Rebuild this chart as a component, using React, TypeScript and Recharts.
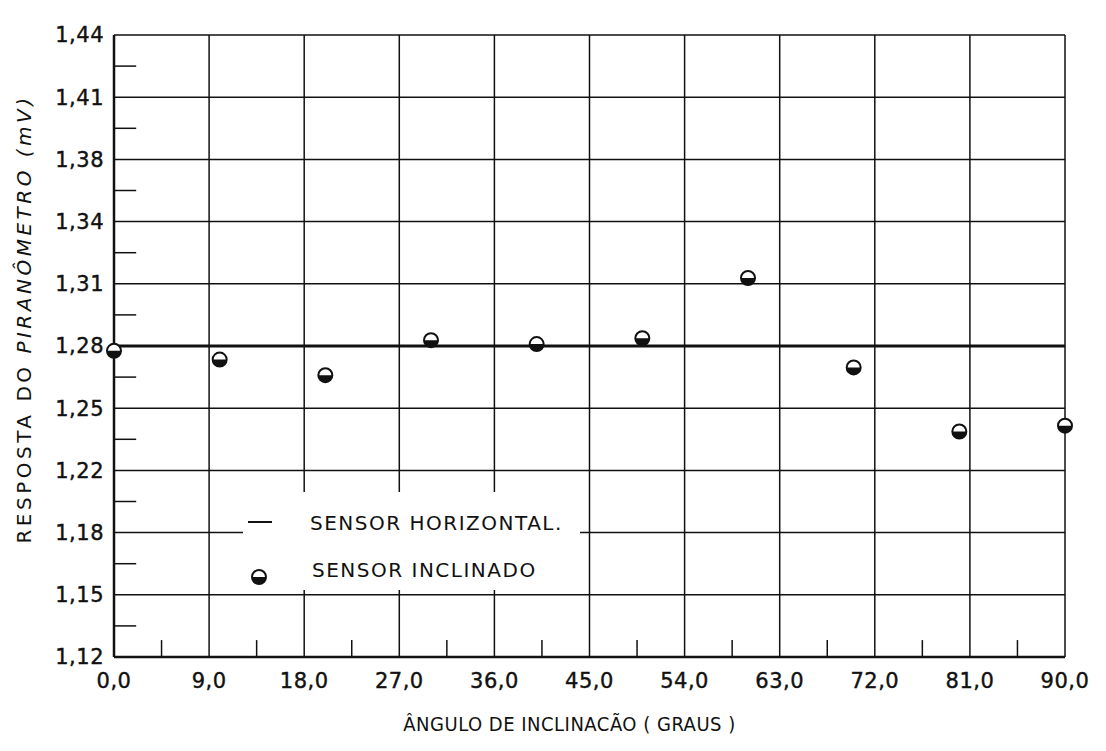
import {
  ComposedChart, Line, Scatter, XAxis, YAxis, CartesianGrid, ReferenceLine
} from 'recharts'

// angles (degrees) and pyranometer readings (mV)
const angles = [0, 10, 20, 30, 40, 50, 60, 70, 80, 90]
const sensorInclinado = [1.2775, 1.273, 1.265, 1.283, 1.281, 1.284, 1.315, 1.269, 1.236, 1.239]
const sensorHorizontal = [1.28, 1.28, 1.28, 1.28, 1.28, 1.28, 1.28, 1.28, 1.28, 1.28]

const xTicks = [0, 9, 18, 27, 36, 45, 54, 63, 72, 81, 90]
const xMinorTicks = [4.5, 13.5, 22.5, 31.5, 40.5, 49.5, 58.5, 67.5, 76.5, 85.5]
const yTicks = [1.12, 1.152, 1.184, 1.216, 1.248, 1.28, 1.312, 1.344, 1.376, 1.408, 1.44]
const yMinorTicks = [1.136, 1.168, 1.2, 1.232, 1.264, 1.296, 1.328, 1.36, 1.392, 1.424]

const INK = '#111'
const FONT = '"DejaVu Sans", Arial, sans-serif'
const FONT_COND = '"DejaVu Sans Condensed", "DejaVu Sans", Arial, sans-serif'

const data = angles.map((a, i) => ({
  angle: a,
  inclinado: sensorInclinado[i],
  horizontal: sensorHorizontal[i],
}))

const fmt = (v: number, d: number) => v.toFixed(d).replace('.', ',')

const tickStyle = { fill: INK, fontSize: 21, fontFamily: FONT, letterSpacing: 0.5, stroke: INK, strokeWidth: 0.4 }

function HalfDot({ cx, cy, r = 7 }: { cx?: number; cy?: number; r?: number }) {
  if (cx == null || cy == null) return null
  return (
    <g>
      <circle cx={cx} cy={cy} r={r} fill="#fff" stroke={INK} strokeWidth={2} />
      <path d={`M${cx - r},${cy} A${r},${r} 0 0,0 ${cx + r},${cy} Z`} fill={INK} />
    </g>
  )
}

// white box that sits over the grid, like the pasted-on key in the original
function LegendBox() {
  return (
    <div style={{ position: 'absolute', left: 235, top: 484, width: 337, height: 98, background: '#fff' }}>
      <svg width={337} height={98} style={{ display: 'block' }}>
        <line x1={5} y1={30} x2={29} y2={30} stroke={INK} strokeWidth={2} />
        <text x={67} y={38} fontSize={20} letterSpacing={1.5} fill={INK} fontFamily={FONT}>
          SENSOR HORIZONTAL.
        </text>
        <HalfDot cx={16} cy={85} />
        <text x={69} y={85} fontSize={20} letterSpacing={1.5} fill={INK} fontFamily={FONT}>
          SENSOR INCLINADO
        </text>
      </svg>
    </div>
  )
}

function YTitle({ viewBox }: any) {
  const x = viewBox.x + 16
  const y = viewBox.y + viewBox.height / 2 - 27
  return (
    <text
      x={x} y={y} transform={`rotate(-90, ${x}, ${y})`} textAnchor="middle" dominantBaseline="central"
      fontSize={20} letterSpacing={3.5} fill={INK} fontFamily={FONT}
    >
      RESPOSTA DO <tspan fontStyle="italic">PIRANÔMETRO (mV)</tspan>
    </text>
  )
}

export default function App() {
  return (
    <div style={{ position: 'relative', width: 1090, height: 735 }}>
      <ComposedChart
        width={1090}
        height={735}
        data={data}
        margin={{ top: 27, right: 33, left: 0, bottom: 0 }}
        style={{ background: '#fff' }}
      >
        <CartesianGrid stroke={INK} strokeWidth={1.5} />
        <XAxis
          dataKey="angle"
          type="number"
          domain={[0, 90]}
          ticks={xTicks}
          tickFormatter={(v) => fmt(v, 1)}
          height={86}
          tickSize={0}
          tickMargin={16}
          axisLine={{ stroke: INK, strokeWidth: 2.5 }}
          tick={tickStyle}
          label={{
            value: 'ÂNGULO DE INCLINACÃO ( GRAUS )',
            position: 'insideBottom',
            offset: 12,
            fill: INK,
            fontSize: 20,
            fontFamily: FONT_COND,
            letterSpacing: 0.5,
            dx: -20,
          }}
        />
        <YAxis
          type="number"
          domain={[1.12, 1.44]}
          ticks={yTicks}
          tickFormatter={(v) => fmt(v, 2)}
          width={106}
          tickSize={0}
          tickMargin={10}
          axisLine={{ stroke: INK, strokeWidth: 2.5 }}
          tick={tickStyle}
          label={{ content: YTitle }}
        />
        {xMinorTicks.map((t) => (
          <ReferenceLine
            key={'x' + t}
            segment={[{ x: t, y: 1.12 }, { x: t, y: 1.1287 }]}
            stroke={INK}
            strokeWidth={1.5}
          />
        ))}
        {yMinorTicks.map((t) => (
          <ReferenceLine
            key={'y' + t}
            segment={[{ x: 0, y: t }, { x: 2.1, y: t }]}
            stroke={INK}
            strokeWidth={1.5}
          />
        ))}
        <Line
          dataKey="horizontal"
          type="linear"
          stroke={INK}
          strokeWidth={3}
          dot={false}
          isAnimationActive={false}
        />
        <Scatter dataKey="inclinado" shape={(p: any) => <HalfDot cx={p.cx} cy={p.cy} />} isAnimationActive={false} />
      </ComposedChart>
      <LegendBox />
    </div>
  )
}
